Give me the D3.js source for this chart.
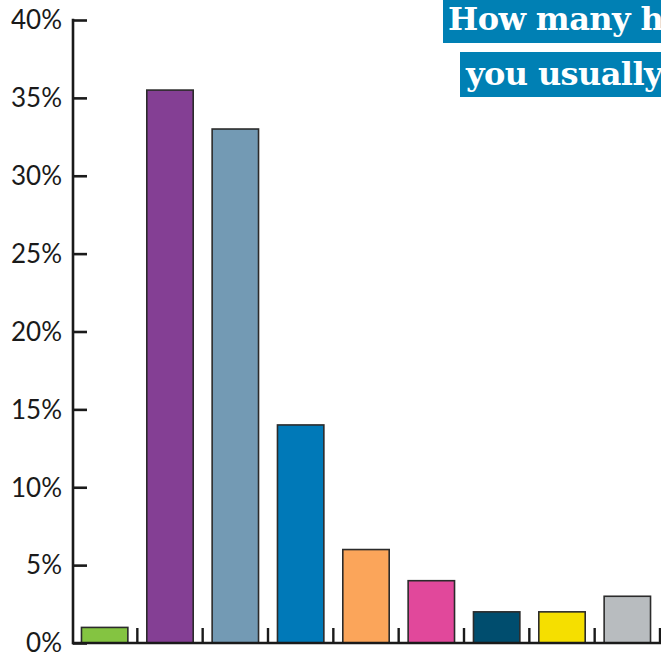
<!DOCTYPE html>
<html>
<head>
<meta charset="utf-8">
<script src="https://cdn.jsdelivr.net/npm/d3@7"></script>
<style>
  html, body { margin: 0; padding: 0; background: #fff; }
  svg { display: block; }
</style>
</head>
<body>
<svg id="chart" width="661" height="654"></svg>
<script>
// Answer groups and their share of respondents (%)
const categories = ["a", "b", "c", "d", "e", "f", "g", "h", "i"];
const shares = [1, 35.5, 33, 14, 6, 4, 2, 2, 3];
const barColors = ["#84c441", "#843f94", "#739ab4", "#0079b8", "#fba55a", "#e1489b", "#004d6e", "#f5df00", "#b8bcbf"];
const yTicks = [0, 5, 10, 15, 20, 25, 30, 35, 40];
const titleLines = ["How many hours a week do", "you usually work?"];

const svg = d3.select("#chart");
const W = 661, H = 654;

const x = d3.scaleBand().domain(categories).range([72, 660]).paddingInner(0.29).paddingOuter(0.145);
const y = d3.scaleLinear().domain([0, 40]).range([643, 20]);

// Bars
svg.append("g").selectAll("rect")
  .data(categories)
  .join("rect")
  .attr("x", d => x(d))
  .attr("y", (d, i) => y(shares[i]))
  .attr("width", x.bandwidth())
  .attr("height", (d, i) => y(0) - y(shares[i]))
  .attr("fill", (d, i) => barColors[i])
  .attr("stroke", "#2b2b2b")
  .attr("stroke-width", 1.6);

// Y axis: ticks point inward
const yAxis = svg.append("g")
  .attr("transform", "translate(73,0)")
  .call(d3.axisRight(y).tickValues(yTicks).tickSize(14).tickFormat(""));
yAxis.select(".domain").remove();
yAxis.selectAll(".tick line").attr("stroke", "#1a1a1a").attr("stroke-width", 2.6);
svg.append("line")
  .attr("x1", 73).attr("x2", 73).attr("y1", y(40) - 1.3).attr("y2", y(0) + 1.3)
  .attr("stroke", "#1a1a1a").attr("stroke-width", 2.6);

svg.append("g").selectAll("text")
  .data(yTicks)
  .join("text")
  .attr("x", 62)
  .attr("y", d => y(d))
  .attr("dy", "0.36em")
  .attr("text-anchor", "end")
  .attr("font-family", "Lato, 'Open Sans', sans-serif")
  .attr("font-weight", 400)
  .attr("font-size", 26)
  .attr("fill", "#1a1a1a")
  .text(d => d + "%");

// X axis baseline with separators between bars
svg.append("line")
  .attr("x1", 72).attr("x2", W).attr("y1", y(0)).attr("y2", y(0))
  .attr("stroke", "#1a1a1a").attr("stroke-width", 2.6);
const step = x.step();
const seps = categories.map(d => x(d) + x.bandwidth() + step * x.paddingInner() / 2);
svg.append("g").selectAll("line")
  .data(seps)
  .join("line")
  .attr("x1", d => d).attr("x2", d => d)
  .attr("y1", y(0)).attr("y2", y(0) - 15)
  .attr("stroke", "#1a1a1a").attr("stroke-width", 2.4);

// Title boxes
const titleBoxes = [
  { x: 443, y: 0, h: 43, tx: 448, ty: 30 },
  { x: 460, y: 52, h: 45, tx: 466, ty: 85 }
];
titleLines.forEach((t, i) => {
  const b = titleBoxes[i];
  svg.append("rect").attr("x", b.x).attr("y", b.y).attr("width", W - b.x + 200).attr("height", b.h).attr("fill", "#0080b4");
  svg.append("text")
    .attr("x", b.tx).attr("y", b.ty)
    .attr("font-family", "'DejaVu Serif', serif")
    .attr("font-weight", "bold")
    .attr("font-size", 32)
    .attr("letter-spacing", -0.6)
    .attr("fill", "#fff")
    .text(t);
});
</script>
</body>
</html>
